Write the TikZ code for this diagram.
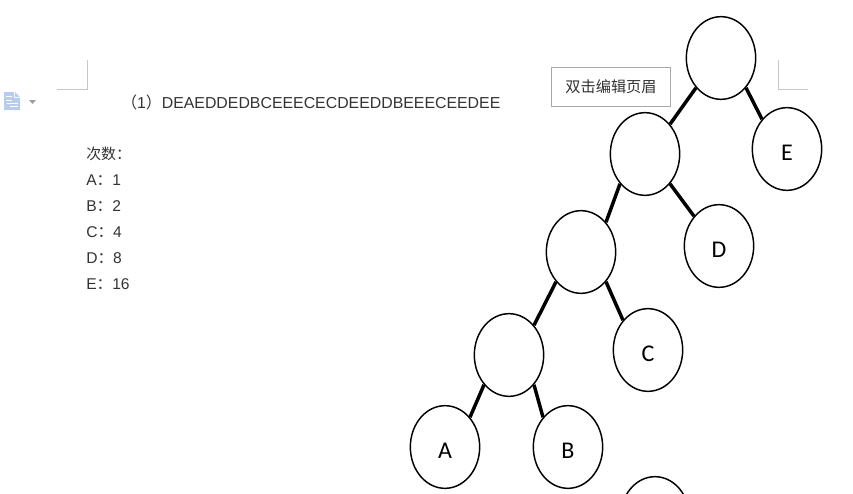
\documentclass[tikz,border=0pt]{standalone}
\usepackage{fontspec}
\usetikzlibrary{shapes.geometric}
\setmainfont{Liberation Sans}
\newfontfamily\cjk{Noto Sans CJK SC}
\newfontfamily\labelfont{Carlito}
\definecolor{inkgray}{rgb}{0.2,0.2,0.2}
\definecolor{markgray}{rgb}{0.78,0.78,0.78}
\definecolor{boxgray}{rgb}{0.66,0.66,0.66}
\definecolor{iconblue}{rgb}{0.72,0.80,0.92}
\newcommand{\leaftext}[1]{\raisebox{-8.8pt}[0pt][0pt]{#1}}
\tikzset{
  treenode/.style={draw,ellipse,line width=1.1pt,minimum width=52pt,minimum height=62pt,inner sep=0pt,font=\labelfont\fontsize{18}{18}\selectfont},
  treeedge/.style={line width=2.6pt},
  listtext/.style={anchor=base west,inner sep=0pt,text=inkgray,font=\fontsize{11.7}{11.7}\selectfont},
  cropmark/.style={color=markgray,line width=0.75pt}
}
\begin{document}
\begin{tikzpicture}[x=0.75pt,y=-0.75pt,line cap=butt,line join=miter]
      \useasboundingbox (0,0) rectangle (853,493);
      \clip (0,0) rectangle (853,493);
      % page corners
      \coordinate (la) at (87,60);
      \coordinate (lb) at (87,89);
      \coordinate (lc) at (57,89);
      \coordinate (ra) at (778,60);
      \coordinate (rb) at (778,89);
      \coordinate (rc) at (808,89);
      \draw [cropmark] (la) -- (lb) -- (lc);
      \draw [cropmark] (ra) -- (rb) -- (rc);
      % icon
      \fill [iconblue] (4,92) -- (14,92) -- (14,98) -- (20,98) -- (20,110) -- (4,110) -- cycle;
      \fill [iconblue] (15,92) -- (20,97) -- (15,97) -- cycle;
      \draw [white,line width=0.75pt] (6,96) -- (12,96);
      \draw [white,line width=0.75pt] (6,100) -- (12,100);
      \draw [white,line width=0.75pt] (7,103) -- (18,103);
      \draw [white,line width=0.75pt] (10,106) -- (18,106);
      \fill [markgray!80!black] (29,100) -- (36,100) -- (32.5,104) -- cycle;
      % text
      \node [listtext,font=\fontsize{11.9}{11.9}\selectfont] (seq) at (121,108) {{\cjk （}1{\cjk ）}DEAEDDEDBCEEECECDEEDDBEEECEEDEE};
      \node [listtext,font=\fontsize{11.2}{11.2}\selectfont] (title) at (86,159) {\cjk 次数：};
      \node [listtext] (ca) at (86,185) {A{\cjk ：}1};
      \node [listtext] (cb) at (86,211) {B{\cjk ：}2};
      \node [listtext] (cc) at (86,237) {C{\cjk ：}4};
      \node [listtext] (cd) at (86,263) {D{\cjk ：}8};
      \node [listtext] (ce) at (86,289) {E{\cjk ：}16};
      \node [draw=boxgray,line width=0.75pt,minimum width=89.5pt,minimum height=29pt,inner sep=0pt,text=inkgray,font=\cjk\fontsize{11.4}{11.4}\selectfont] (header) at (611,87) {双击编辑页眉};
      % tree
      \node [treenode] (root) at (721,58) {};
      \node [treenode] (nb) at (645,154) {};
      \node [treenode] (nc) at (581,252) {};
      \node [treenode] (nd) at (509,355) {};
      \node [treenode] (lE) at (787,149) {\leaftext{E}};
      \node [treenode] (lD) at (719,246) {\leaftext{D}};
      \node [treenode] (lC) at (648,350) {\leaftext{C}};
      \node [treenode] (lA) at (445,447) {\leaftext{A}};
      \node [treenode] (lB) at (568,447) {\leaftext{B}};
      \node [treenode] (extra) at (655,518) {};
      \draw [treeedge] (root.230) -- (nb.50);
      \draw [treeedge] (root.310) -- (lE.130);
      \draw [treeedge] (nb.230) -- (nc.50);
      \draw [treeedge] (nb.310) -- (lD.130);
      \draw [treeedge] (nc.230) -- (nd.50);
      \draw [treeedge] (nc.310) -- (lC.130);
      \draw [treeedge] (nd.230) -- (lA.50);
      \draw [treeedge] (nd.310) -- (lB.130);
\end{tikzpicture}
\end{document}
